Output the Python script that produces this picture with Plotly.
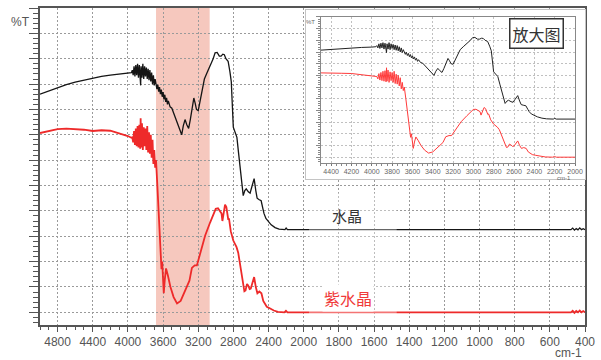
import plotly.graph_objects as go

# ---------------- data (wavenumber cm-1, %T in arbitrary offset units) ----------------
black_points = [
    (5000, 86.0), (4900, 87.3), (4800, 88.5), (4700, 89.8), (4600, 90.8), (4500, 91.6),
    (4400, 92.3), (4300, 93.0), (4200, 93.5), (4100, 93.9), (4000, 94.2), (3960, 94.5),
    (3950, 95.5), (3940, 93.5), (3930, 97.0), (3920, 93.0), (3910, 97.5), (3900, 93.5),
    (3890, 98.0), (3880, 92.5), (3870, 97.5), (3860, 93.0), (3855, 89.5), (3850, 97.0),
    (3840, 92.5), (3830, 98.0), (3820, 92.0), (3810, 97.0), (3800, 93.0), (3790, 96.5),
    (3780, 92.0), (3770, 96.0), (3760, 91.5), (3750, 95.5), (3740, 91.0), (3730, 94.5),
    (3720, 90.0), (3710, 93.5), (3700, 89.5), (3690, 92.0), (3680, 90.5), (3670, 88.0),
    (3660, 89.8), (3650, 87.0), (3640, 88.8), (3630, 86.0), (3620, 87.8), (3610, 85.0),
    (3600, 86.8), (3590, 84.0), (3580, 85.8), (3570, 83.0), (3560, 84.6), (3550, 82.0),
    (3540, 83.4), (3520, 81.0), (3500, 80.5), (3450, 76.0), (3420, 72.5), (3388, 70.0),
    (3370, 73.5), (3350, 76.0), (3330, 74.0), (3309, 72.5), (3290, 76.0), (3270, 81.0),
    (3250, 84.5), (3235, 82.5), (3220, 80.0), (3200, 79.5), (3180, 83.5), (3160, 87.5),
    (3130, 92.0), (3100, 94.5), (3060, 97.5), (3030, 100.0), (3008, 102.3), (2985, 102.5),
    (2960, 101.0), (2940, 101.0), (2920, 101.8), (2903, 101.6), (2885, 100.0), (2860, 99.0),
    (2840, 95.0), (2824, 91.0), (2801, 73.0), (2780, 70.5), (2760, 69.0), (2740, 62.5),
    (2711, 52.0), (2700, 48.0), (2688, 46.0), (2670, 48.0), (2654, 48.7), (2630, 47.5),
    (2610, 47.0), (2590, 49.5), (2564, 52.7), (2545, 48.0), (2530, 45.0), (2510, 44.5),
    (2484, 44.0), (2465, 41.0), (2452, 39.0), (2430, 37.0), (2406, 36.0), (2370, 34.5),
    (2326, 33.4), (2280, 32.8), (2214, 32.6), (2200, 33.2), (2185, 32.6), (2100, 32.6),
    (2000, 32.6), (1500, 32.6), (1000, 32.6), (500, 32.6), (480, 32.6), (470, 33.2),
    (460, 32.4), (450, 33.0), (440, 32.5), (430, 33.3), (420, 32.6), (410, 33.0), (400, 32.6),
]

red_points = [
    (5000, 70.7), (4900, 71.5), (4800, 72.2), (4700, 72.4), (4600, 72.3), (4500, 72.0),
    (4400, 71.5), (4300, 71.8), (4200, 71.6), (4100, 70.6), (4000, 69.5), (3960, 68.8),
    (3950, 69.0), (3940, 67.0), (3930, 71.5), (3920, 66.0), (3910, 72.5), (3900, 65.5),
    (3890, 73.5), (3880, 65.0), (3870, 74.0), (3860, 64.5), (3855, 76.5), (3850, 65.0),
    (3840, 74.5), (3830, 64.0), (3820, 73.0), (3810, 65.5), (3800, 72.5), (3790, 64.0),
    (3780, 73.5), (3770, 63.0), (3760, 71.0), (3750, 62.5), (3740, 70.0), (3730, 61.0),
    (3720, 68.0), (3710, 58.5), (3700, 64.0), (3690, 57.0), (3680, 60.0), (3665, 50.0),
    (3648, 39.0), (3630, 26.0), (3618, 17.0), (3610, 20.0), (3600, 12.0), (3592, 7.5),
    (3580, 13.0), (3566, 17.3), (3545, 14.5), (3516, 10.0), (3480, 6.0), (3441, 3.5),
    (3400, 4.5), (3347, 8.6), (3300, 12.5), (3272, 17.5), (3240, 18.5), (3215, 18.5),
    (3177, 23.0), (3121, 30.3), (3064, 35.5), (3030, 38.5), (3001, 40.8), (2975, 41.0),
    (2952, 40.0), (2935, 39.0), (2925, 36.0), (2910, 40.0), (2895, 42.5), (2880, 41.5),
    (2865, 39.0), (2858, 36.5), (2850, 37.0), (2830, 32.0), (2801, 28.3), (2764, 25.7),
    (2745, 23.5), (2726, 19.0), (2700, 13.0), (2688, 10.0), (2675, 8.3), (2662, 8.6),
    (2645, 11.2), (2632, 10.6), (2615, 9.2), (2602, 9.4), (2585, 11.5), (2564, 13.9),
    (2545, 10.0), (2527, 7.5), (2505, 8.2), (2481, 7.5), (2460, 4.5), (2443, 3.5),
    (2420, 2.2), (2387, 1.6), (2340, 0.7), (2293, 0.2), (2220, 0.0), (2202, 0.6),
    (2185, 0.0), (2000, 0.0), (1500, 0.0), (1000, 0.0), (500, 0.0), (480, 0.0),
    (470, 0.6), (460, -0.2), (450, 0.5), (440, 0.0), (430, 0.7), (420, 0.0),
    (410, 0.5), (400, 0.0),
]

main_tick_labels = [4800, 4400, 4000, 3600, 3200, 2800, 2400, 2000,
                    1800, 1600, 1400, 1200, 1000, 800, 600, 400]
inset_tick_labels = [4400, 4200, 4000, 3800, 3600, 3400, 3200, 3000, 2800, 2600, 2400, 2200, 2000]
band_wn = [3680, 3070]          # highlighted O-H region
main_range_wn = [5000, 400]
inset_range_wn = [4500, 2000]

label_quartz = "水晶"
label_amethyst = "紫水晶"
label_zoom = "放大图"

black_wn = [p[0] for p in black_points]
black_T = [p[1] for p in black_points]
red_wn = [p[0] for p in red_points]
red_T = [p[1] for p in red_points]


# FTIR display: scale halves above 2000 cm-1
def u(wn):
    return wn if wn <= 2000 else 2000 + (wn - 2000) / 2.0


BLACK = "#151515"
RED = "#ee2a2a"
AX = "#555555"
FONT = "Liberation Sans, Arial, sans-serif"
CJK = "Noto Sans CJK SC, sans-serif"

fig = go.Figure()

# main traces
fig.add_trace(go.Scatter(x=[u(w) for w in black_wn], y=black_T, mode="lines",
                         line=dict(color=BLACK, width=1.3), xaxis="x", yaxis="y",
                         showlegend=False, hoverinfo="skip"))
fig.add_trace(go.Scatter(x=[u(w) for w in red_wn], y=red_T, mode="lines",
                         line=dict(color=RED, width=1.8), xaxis="x", yaxis="y",
                         showlegend=False, hoverinfo="skip"))
# white frame subplot for the inset (empty)
fig.add_trace(go.Scatter(x=[], y=[], xaxis="x2", yaxis="y2", showlegend=False, hoverinfo="skip"))
# inset traces
fig.add_trace(go.Scatter(x=black_wn, y=black_T, mode="lines",
                         line=dict(color="#222222", width=1), xaxis="x3", yaxis="y3",
                         showlegend=False, hoverinfo="skip"))
fig.add_trace(go.Scatter(x=red_wn, y=red_T, mode="lines",
                         line=dict(color="#ff3a3a", width=1), xaxis="x3", yaxis="y3",
                         showlegend=False, hoverinfo="skip"))

# plot area: x 40..587, y 6..325 in a 601x360 canvas
L, R, T, B = 40, 14, 6, 35
W, H = 601, 360
PW, PH = W - L - R, H - T - B


def px(xp):
    return (xp - L) / PW


def py(yp):
    return (H - B - yp) / PH


grid_dash = "2px,2px"

fig.update_layout(
    width=W, height=H,
    margin=dict(l=L, r=R, t=T, b=B),
    paper_bgcolor="white", plot_bgcolor="white",
    font=dict(family=FONT, color=AX),
    xaxis=dict(
        domain=[0, 1], range=[u(main_range_wn[0]), u(main_range_wn[1])], anchor="y",
        tickmode="array", tickvals=[u(v) for v in main_tick_labels],
        ticktext=[str(v) for v in main_tick_labels],
        ticks="outside", ticklen=5, tickcolor=AX, tickwidth=1,
        tickfont=dict(size=12, color=AX, family=FONT),
        showline=True, linecolor=AX, linewidth=1.5, mirror=True,
        showgrid=True, gridcolor="#9a9a9a", gridwidth=1, griddash=grid_dash,
        zeroline=False,
        minor=dict(tickmode="linear", tick0=400, dtick=50, ticks="outside", ticklen=3,
                   tickcolor=AX, showgrid=False),
    ),
    yaxis=dict(
        domain=[0, 1], range=[-5, 120], anchor="x",
        tickmode="linear", tick0=0, dtick=10, showticklabels=False,
        ticks="outside", ticklen=9, tickcolor=AX,
        showline=True, linecolor=AX, linewidth=1.5, mirror=True,
        showgrid=True, gridcolor="#9a9a9a", gridwidth=1, griddash=grid_dash,
        zeroline=False,
        minor=dict(tickmode="linear", tick0=0, dtick=2, ticks="outside", ticklen=5,
                   tickcolor=AX, showgrid=False),
    ),
    xaxis2=dict(
        domain=[px(307), px(587)], range=[0, 1], anchor="y2",
        showgrid=False, zeroline=False, showticklabels=False, ticks="",
        showline=True, mirror=True, linecolor="#c4c4c4", linewidth=1,
    ),
    yaxis2=dict(
        domain=[py(178), py(8)], range=[0, 1], anchor="x2",
        showgrid=False, zeroline=False, showticklabels=False, ticks="",
        showline=True, mirror=True, linecolor="#c4c4c4", linewidth=1,
    ),
    xaxis3=dict(
        domain=[px(322), px(577)], range=inset_range_wn, anchor="y3",
        tickmode="array", tickvals=inset_tick_labels, ticktext=[str(v) for v in inset_tick_labels],
        ticks="outside", ticklen=2, tickcolor="#777",
        tickfont=dict(size=7, color="#666", family=FONT),
        showline=True, linecolor="#888", linewidth=1, mirror=True,
        showgrid=True, gridcolor="#c0c0c0", gridwidth=1, griddash=grid_dash,
        zeroline=False,
        minor=dict(tickmode="linear", tick0=2000, dtick=50, ticks="outside", ticklen=2,
                   tickcolor="#888", showgrid=False),
    ),
    yaxis3=dict(
        domain=[py(162), py(15)], range=[-5, 120], anchor="x3",
        tickmode="linear", tick0=0, dtick=10, showticklabels=False,
        ticks="outside", ticklen=4, tickcolor="#888",
        showline=True, linecolor="#888", linewidth=1, mirror=True,
        showgrid=True, gridcolor="#c0c0c0", gridwidth=1, griddash=grid_dash,
        zeroline=False,
        minor=dict(tickmode="linear", tick0=0, dtick=2, ticks="outside", ticklen=2,
                   tickcolor="#888", showgrid=False),
    ),
    shapes=[
        dict(type="rect", xref="x", yref="paper", x0=u(band_wn[0]), x1=u(band_wn[1]),
             y0=0, y1=1, fillcolor="rgb(246,200,190)", line=dict(width=0), layer="below"),
        dict(type="rect", xref="paper", yref="paper", x0=px(310), x1=px(398),
             y0=py(318), y1=py(192), fillcolor="rgba(255,255,255,0.35)",
             line=dict(width=0), layer="above"),
    ],
    annotations=[
        dict(text="%T", xref="paper", yref="paper", x=px(20), y=py(20), showarrow=False,
             font=dict(size=12, color=AX, family=FONT), xanchor="center", yanchor="middle"),
        dict(text="cm-1", xref="paper", yref="paper", x=px(570), y=py(353), showarrow=False,
             font=dict(size=12, color=AX, family=FONT), xanchor="center", yanchor="middle"),
        dict(text=label_quartz, xref="paper", yref="paper", x=px(348), y=py(215),
             showarrow=False, font=dict(size=15, color="#333333", family=CJK),
             xanchor="center", yanchor="middle"),
        dict(text=label_amethyst, xref="paper", yref="paper", x=px(349), y=py(298),
             showarrow=False, font=dict(size=16, color="#f03a3a", family=CJK),
             bgcolor="white", borderpad=1, xanchor="center", yanchor="middle"),
        dict(text=label_zoom, xref="paper", yref="paper", x=px(538), y=py(32),
             showarrow=False, font=dict(size=16, color="#333333", family=CJK),
             bgcolor="white", bordercolor="#333333", borderwidth=1.5, borderpad=2,
             xanchor="center", yanchor="middle"),
        dict(text="%T", xref="paper", yref="paper", x=px(311), y=py(20), showarrow=False,
             font=dict(size=6, color="#666", family=FONT), xanchor="center", yanchor="middle"),
        dict(text="cm-1", xref="paper", yref="paper", x=px(566), y=py(177), showarrow=False,
             font=dict(size=6, color="#666", family=FONT), xanchor="center", yanchor="middle"),
    ],
)

fig.write_html("out.html",
               config={"displayModeBar": False},
               post_script="document.body.style.margin='0';document.body.style.padding='0';")
